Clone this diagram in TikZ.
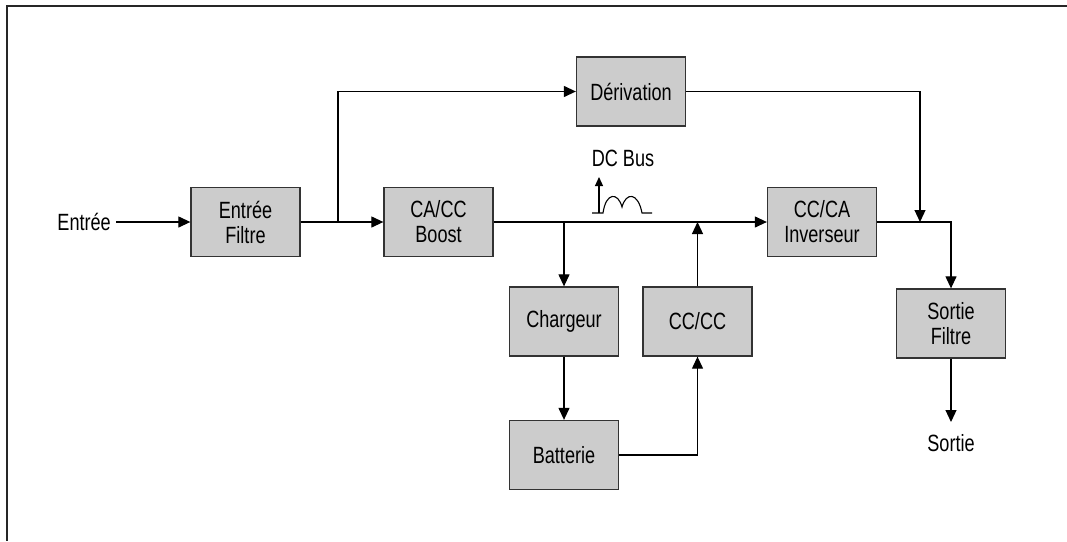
\documentclass[tikz,border=0pt]{standalone}
\usepackage{fontspec}
\setmainfont{Liberation Sans}[FakeStretch=0.77]
\usetikzlibrary{arrows.meta}
\definecolor{boxgray}{HTML}{CCCCCC}
\definecolor{edgegray}{HTML}{333333}
\begin{document}
\begin{tikzpicture}[x=1pt,y=-1pt,
  blk/.style={draw=edgegray,line width=1.3pt,fill=boxgray,minimum width=109pt,minimum height=69pt,inner sep=0pt,align=center,font=\fontsize{23.5}{25}\selectfont},
  lbl/.style={inner sep=0pt,font=\fontsize{23.5}{25}\selectfont},
  conn/.style={draw=black,line width=1.2pt},
  arr/.style={conn,-{Triangle[length=12pt,width=11pt]}},
  frame/.style={draw=black!85,line width=2pt}]
\useasboundingbox (0,0) rectangle (1067,541);
% frame (top and left only)
\draw[frame] (1067,6) -- (7,6) -- (7,541);
% blocks
\node[blk] (filt) at (245.5,222) {Entrée\\Filtre};
\node[blk] (boost) at (438.5,222) {CA/CC\\Boost};
\node[blk] (deriv) at (631,91.5) {Dérivation};
\node[blk] (inv) at (822,222) {CC/CA\\Inverseur};
\node[blk] (charg) at (564,321.5) {Chargeur};
\node[blk] (cccc) at (697.5,321.5) {CC/CC};
\node[blk] (batt) at (564,455) {Batterie};
\node[blk] (sfilt) at (951,323.5) {Sortie\\Filtre};
% labels
\node[lbl,anchor=east] (ent) at (111,222) {Entrée};
\node[lbl] (sortie) at (951,443) {Sortie};
\node[lbl] (dcbus) at (623,158) {DC Bus};
% junctions
\coordinate (j1) at (338,222);
\coordinate (j2) at (920,222);
\coordinate (j3) at (564,222);
\coordinate (j4) at (697.5,222);
\coordinate (j5) at (951,222);
\coordinate (out) at (951,422);
% connectors
\draw[arr,shorten <=5pt] (ent.east) -- (filt.west);
\draw[arr] (filt.east) -- (boost.west);
\draw[arr] (j1) |- (deriv.west);
\draw[arr] (deriv.east) -| (j2);
\draw[arr] (boost.east) -- (inv.west);
\draw[arr] (j3) -- (charg.north);
\draw[arr] (cccc.north) -- (j4);
\draw[arr] (charg.south) -- (batt.north);
\draw[arr] (batt.east) -| (cccc.south);
\draw[arr] (inv.east) -- (j5) -- (sfilt.north);
\draw[arr] (sfilt.south) -- (out);
% DC bus symbol
\draw[conn,line width=1.1pt] (592,213) -- (603,213)
  .. controls (606,192) and (618,192) .. (622,207)
  .. controls (626,192) and (638,192) .. (642,213) -- (652,213);
\draw[conn,line width=1.1pt,-{Triangle[length=9pt,width=8pt]}] (599,213) -- (599,177);
\end{tikzpicture}
\end{document}
